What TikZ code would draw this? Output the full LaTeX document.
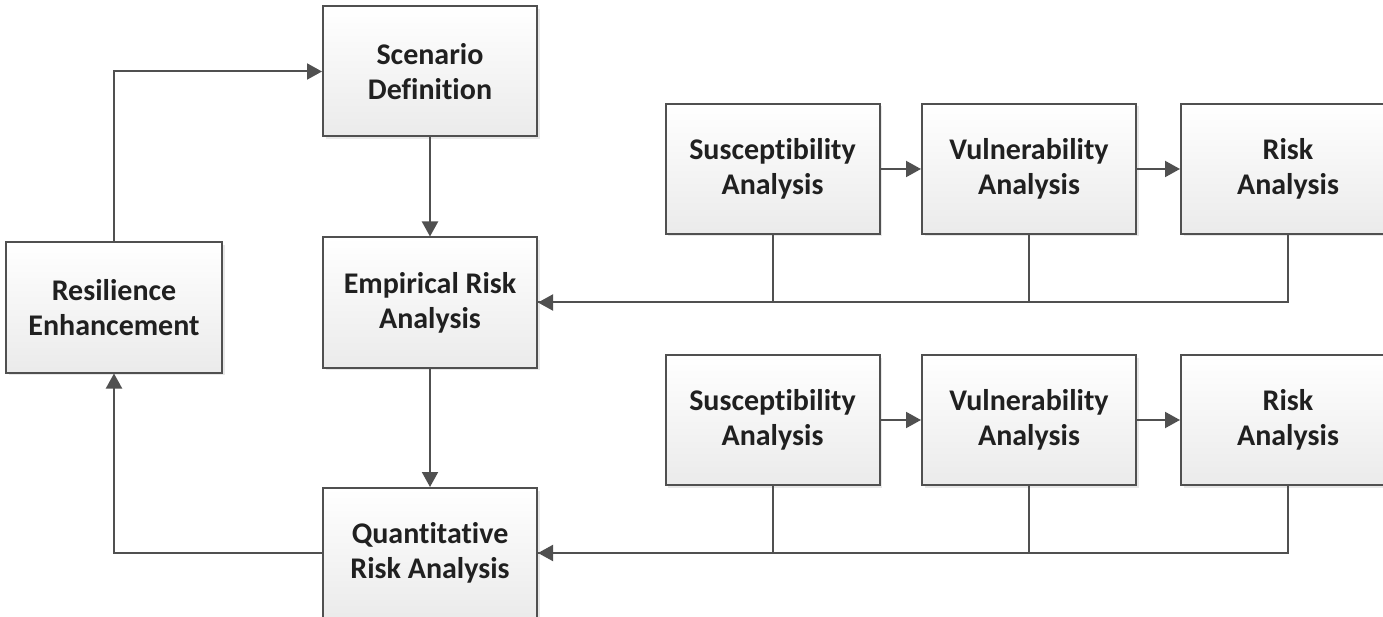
\documentclass[tikz,border=0pt]{standalone}
\usepackage{fontspec}
\setmainfont{Carlito}[Ligatures = NoCommon]
\usetikzlibrary{arrows.meta,shadows}
\definecolor{edgegray}{HTML}{505050}
\definecolor{textgray}{HTML}{202020}
\tikzstyle{boxStyle}=[shape = rectangle, minimum width = 214pt, minimum height = 130pt, inner sep = 0pt, draw = edgegray, line width = 2pt, top color = white, bottom color = black!8, drop shadow = {shadow xshift = 2.5pt, shadow yshift = -2.5pt, opacity = 0.18}, align = center, text = textgray, font = \fontsize{30}{35}\selectfont\bfseries]

\begin{document}
\begin{tikzpicture}[x = 1pt, y = -1pt]
\tikzstyle{EdgeStyle} = [draw = edgegray, line width = 2pt]
\tikzstyle{ArrowStyle} = [EdgeStyle, -{Triangle[length = 15pt, width = 16pt]}]
\useasboundingbox (0,0) rectangle (1383,617);
\node[boxStyle] (v0) at (430, 71.5) {Scenario\\Definition};
\node[boxStyle] (v1) at (430, 302.5) {Empirical Risk\\Analysis};
\node[boxStyle] (v2) at (430, 553) {Quantitative\\Risk Analysis};
\node[boxStyle, minimum width = 216pt] (v3) at (114, 307.5) {Resilience\\Enhancement};
\node[boxStyle] (v4) at (772.5, 169) {Susceptibility\\Analysis};
\node[boxStyle] (v5) at (1029, 169) {Vulnerability\\Analysis};
\node[boxStyle] (v6) at (1288, 169) {Risk\\Analysis};
\node[boxStyle] (v7) at (772.5, 420) {Susceptibility\\Analysis};
\node[boxStyle] (v8) at (1029, 420) {Vulnerability\\Analysis};
\node[boxStyle] (v9) at (1288, 420) {Risk\\Analysis};
\draw[ArrowStyle] (v3.north) |- (v0.west);
\draw[ArrowStyle] (v0) -- (v1);
\draw[ArrowStyle] (v1) -- (v2);
\draw[ArrowStyle] (v2.west) -| (v3.south);
\draw[ArrowStyle] (v4) -- (v5);
\draw[ArrowStyle] (v5) -- (v6);
\draw[ArrowStyle] (v7) -- (v8);
\draw[ArrowStyle] (v8) -- (v9);
\draw[EdgeStyle] (v4.south) |- (v1.east);
\draw[EdgeStyle] (v5.south) |- (v1.east);
\draw[ArrowStyle] (v6.south) |- (v1.east);
\draw[EdgeStyle] (v7.south) |- (v2.east);
\draw[EdgeStyle] (v8.south) |- (v2.east);
\draw[ArrowStyle] (v9.south) |- (v2.east);
\end{tikzpicture}
\end{document}
